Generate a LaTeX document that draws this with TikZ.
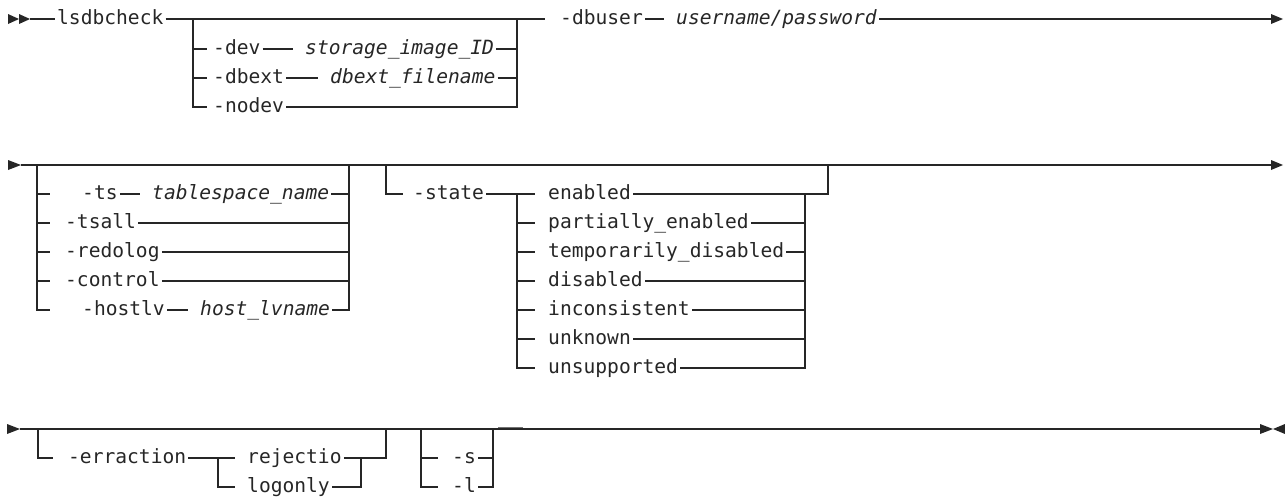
\documentclass[tikz,border=0pt]{standalone}
\usepackage{fontspec}
\newfontfamily\diamono{DejaVu Sans Mono}
\newcommand\kwfont{\diamono\fontsize{19.6}{22}\selectfont}
\newcommand\varfont{\diamono\itshape\fontsize{19.6}{22}\selectfont}
\tikzset{
  ln/.style={line width=1.1pt, draw=black!85},
  kw/.style={font=\kwfont, text=black!85, inner xsep=2pt, inner ysep=0pt,
             text height=11.4pt, text depth=0pt, anchor=west},
  var/.style={kw, font=\varfont},
  gap/.style={ln, shorten >=10pt},
  tip/.style={fill=black!85},
}
\begin{document}
\begin{tikzpicture}[x=1pt,y=-1pt]
\useasboundingbox (0,0) rectangle (1285,498);
% ---------------- Row 1 ----------------
\fill[tip] (8,14) -- (19,19) -- (8,24) -- cycle;
\fill[tip] (19,14) -- (30,19) -- (19,24) -- cycle;
\coordinate (s1) at (30,19);
\node[kw] (cmd) at (55,19) {lsdbcheck};
\coordinate (g1a) at (545,19);
\draw[ln] (s1) -- (cmd.west);
\draw[ln] (cmd.east) -- (g1a);
\node[kw] (dev) at (211,49) {-dev};
\node[var] (sid) at (303,49) {storage\_image\_ID};
\node[kw] (dbext) at (211,78) {-dbext};
\node[var] (dbf) at (328,78) {dbext\_filename};
\node[kw] (nodev) at (211,107) {-nodev};
\draw[ln] (193,19) -- (193,107) -- (207,107);
\draw[ln] (193,49) -- (207,49);
\draw[ln] (193,78) -- (207,78);
\draw[gap] (dev.east) -- (sid.west);
\draw[gap] (dbext.east) -- (dbf.west);
\draw[ln] (sid.east) -- (517,49);
\draw[ln] (dbf.east) -- (517,78);
\draw[ln] (nodev.east) -- (517,107) -- (517,19);
\node[kw] (dbuser) at (558,19) {-dbuser};
\node[var] (user) at (674,19) {username/password};
\coordinate (e1) at (1272,19);
\draw[gap] (dbuser.east) -- (user.west);
\draw[ln] (user.east) -- (e1);
\fill[tip] (1271,14) -- (1283,19) -- (1271,24) -- cycle;
% ---------------- Row 2 ----------------
\fill[tip] (8,160) -- (21,165) -- (8,170) -- cycle;
\coordinate (s2) at (21,165);
\coordinate (e2) at (1272,165);
\draw[ln] (s2) -- (e2);
\fill[tip] (1271,160) -- (1283,165) -- (1271,170) -- cycle;
% group 1
\node[kw] (ts) at (80,194) {-ts};
\node[var] (tsn) at (150,194) {tablespace\_name};
\node[kw] (tsall) at (63,223) {-tsall};
\node[kw] (redo) at (63,252) {-redolog};
\node[kw] (ctrl) at (63,281) {-control};
\node[kw] (hostlv) at (80,310) {-hostlv};
\node[var] (hlv) at (198,310) {host\_lvname};
\draw[ln] (37,165) -- (37,310) -- (50,310);
\foreach \yy in {194,223,252,281} \draw[ln] (37,\yy) -- (50,\yy);
\draw[gap] (ts.east) -- (tsn.west);
\draw[gap] (hostlv.east) -- (hlv.west);
\draw[ln] (tsn.east) -- (349,194);
\draw[ln] (tsall.east) -- (349,223);
\draw[ln] (redo.east) -- (349,252);
\draw[ln] (ctrl.east) -- (349,281);
\draw[ln] (hlv.east) -- (349,310) -- (349,165);
% group 2
\node[kw] (state) at (411,194) {-state};
\draw[ln] (386,165) -- (386,194) -- (403,194);
\draw[ln] (state.east) -- (535,194);
\node[kw] (v1) at (546,194) {enabled};
\node[kw] (v2) at (546,223) {partially\_enabled};
\node[kw] (v3) at (546,252) {temporarily\_disabled};
\node[kw] (v4) at (546,281) {disabled};
\node[kw] (v5) at (546,310) {inconsistent};
\node[kw] (v6) at (546,339) {unknown};
\node[kw] (v7) at (546,368) {unsupported};
\draw[ln] (517,194) -- (517,368) -- (535,368);
\foreach \yy in {223,252,281,310,339} \draw[ln] (517,\yy) -- (535,\yy);
\draw[ln] (v1.east) -- (828,194) -- (828,165);
\draw[ln] (v2.east) -- (805,223);
\draw[ln] (v3.east) -- (805,252);
\draw[ln] (v4.east) -- (805,281);
\draw[ln] (v5.east) -- (805,310);
\draw[ln] (v6.east) -- (805,339);
\draw[ln] (v7.east) -- (805,368) -- (805,194);
% ---------------- Row 3 ----------------
\fill[tip] (7,424) -- (20,429) -- (7,434) -- cycle;
\coordinate (s3) at (20,429);
\coordinate (e3) at (1260,429);
\draw[ln] (s3) -- (e3);
\fill[tip] (1260,424) -- (1273,429) -- (1260,434) -- cycle;
\fill[tip] (1285,424) -- (1273,429) -- (1285,434) -- cycle;
\node[kw] (err) at (66,458) {-erraction};
\node[kw] (rej) at (245,458) {rejectio};
\node[kw] (log) at (245,487) {logonly};
\draw[ln] (38,429) -- (38,458) -- (53,458);
\draw[ln] (err.east) -- (235,458);
\draw[ln] (218,458) -- (218,487) -- (235,487);
\draw[ln] (rej.east) -- (386,458) -- (386,429);
\draw[ln] (log.east) -- (361,487) -- (361,458);
\node[kw] (sopt) at (450,458) {-s};
\node[kw] (lopt) at (450,487) {-l};
\draw[ln] (421,429) -- (421,487) -- (438,487);
\draw[ln] (421,458) -- (438,458);
\draw[ln] (sopt.east) -- (493,458);
\draw[ln] (lopt.east) -- (493,487) -- (493,429);
\draw[line width=1.6pt, draw=black!55] (498,427.6) -- (523,427.6);
\end{tikzpicture}
\end{document}
